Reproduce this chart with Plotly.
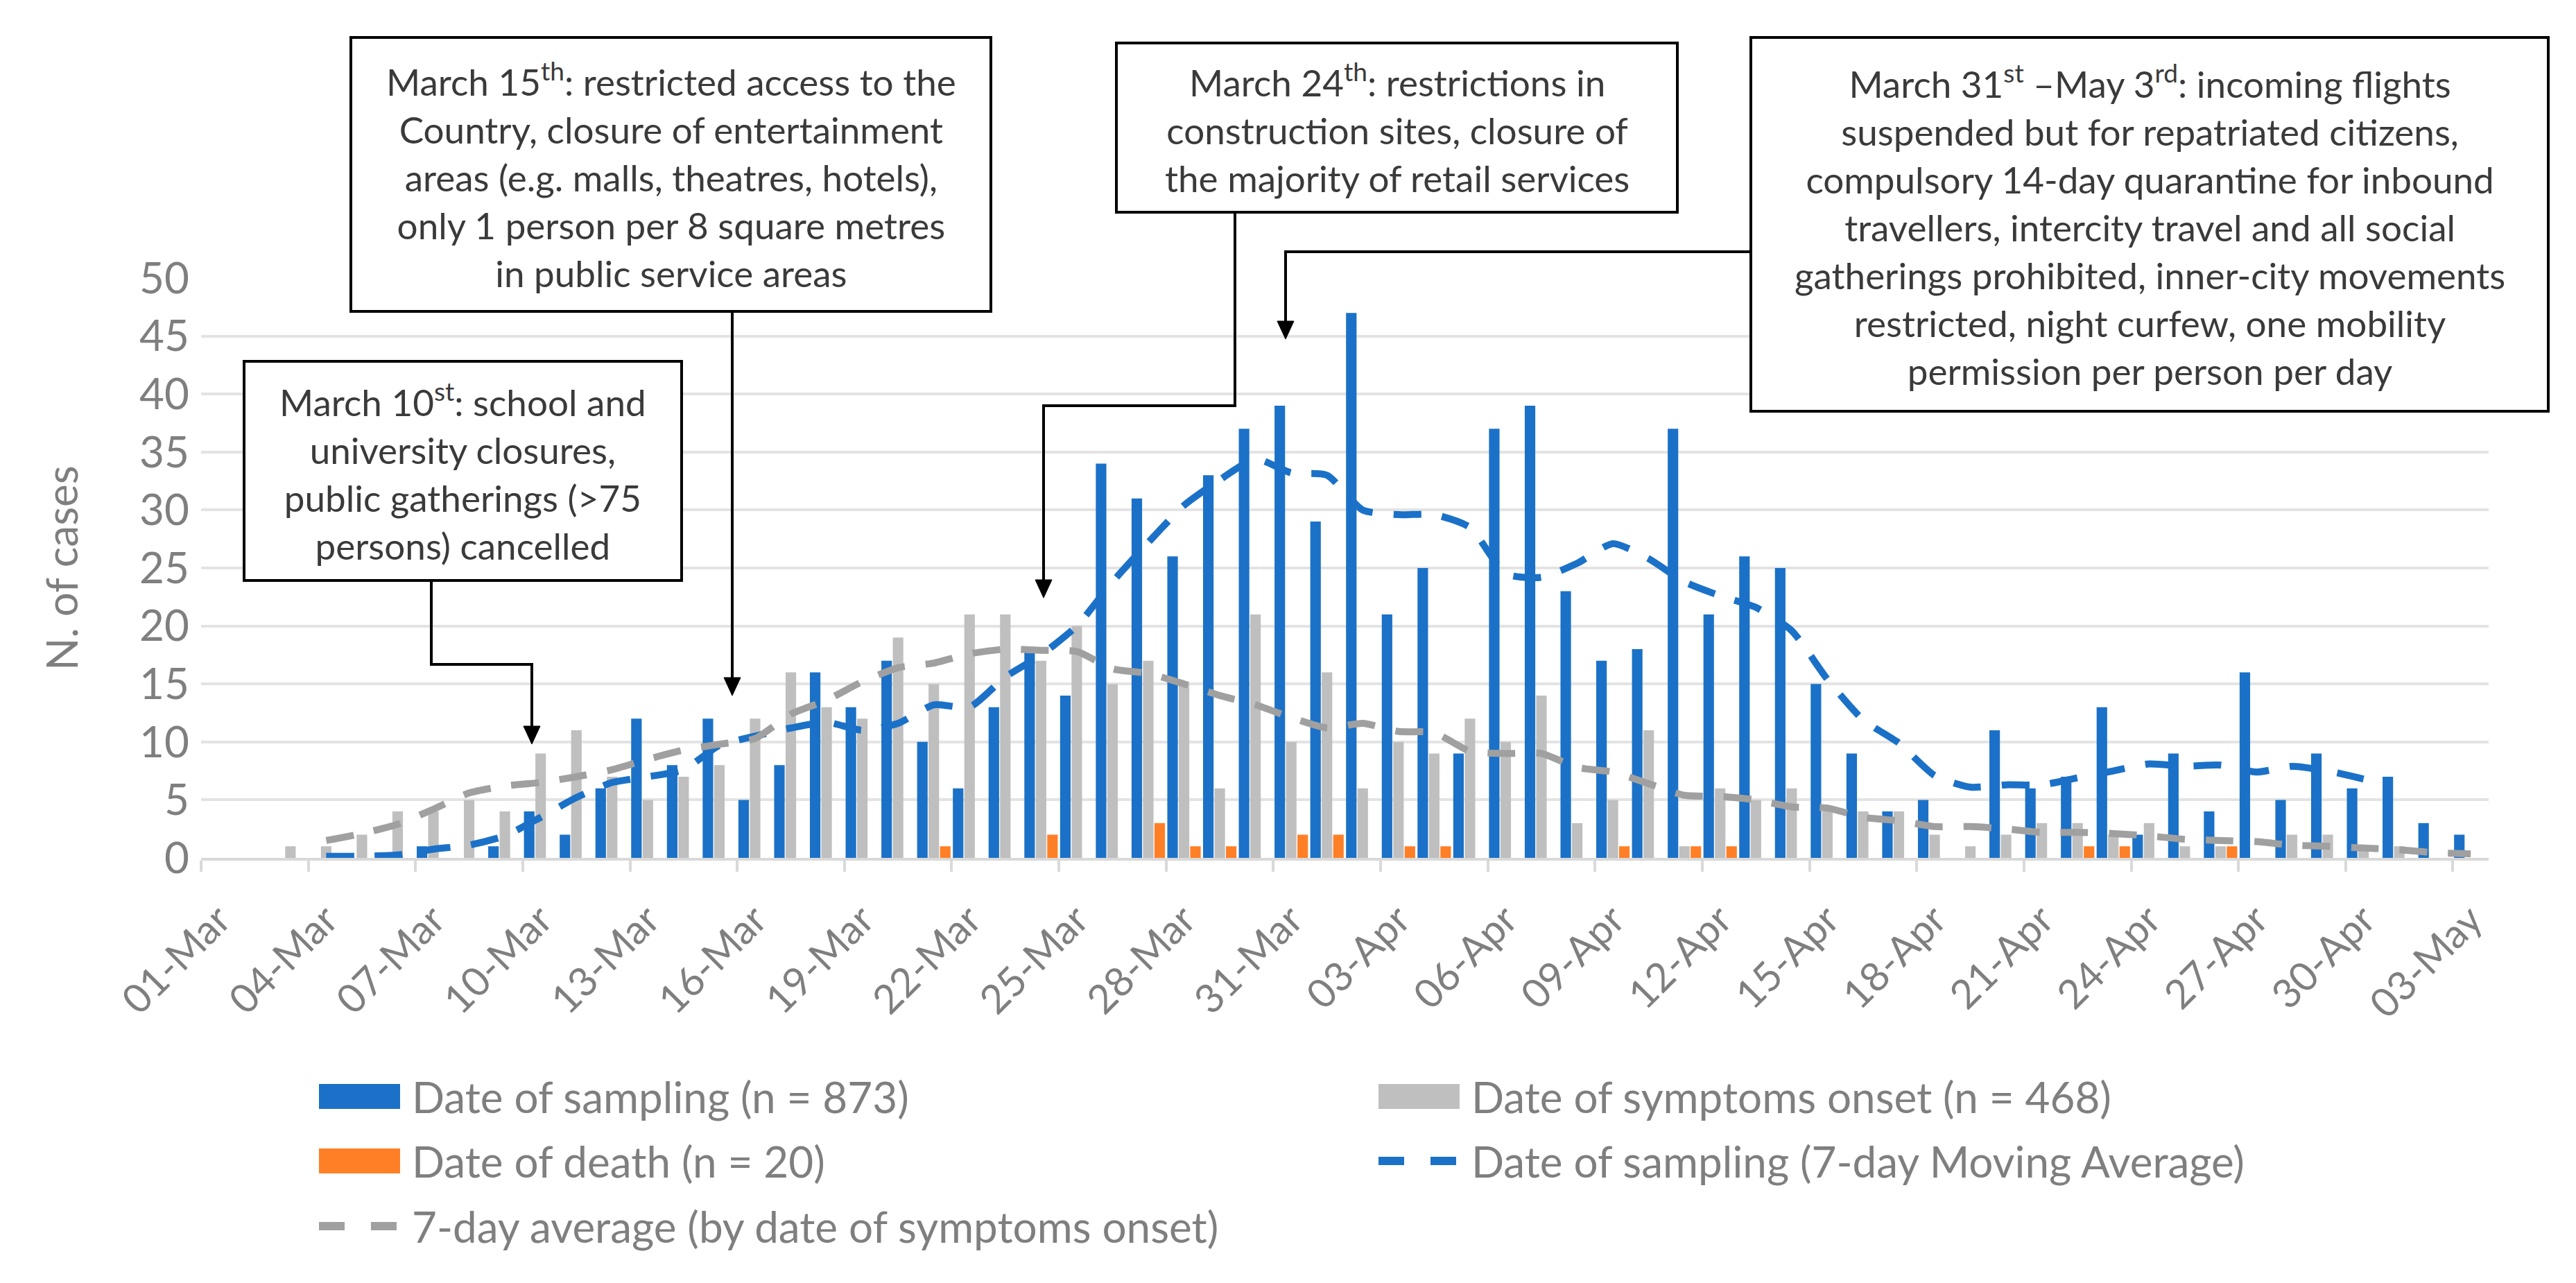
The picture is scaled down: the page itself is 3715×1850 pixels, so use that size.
import plotly.graph_objects as go
import pandas as pd

# ---------------- data ----------------
dates = list(pd.date_range("2020-03-01", "2020-05-03").strftime("%d-%b"))

sampling = [0, 0, 0, 0, 0, 0, 1, 0, 1, 4,
            2, 6, 12, 8, 12, 5, 8, 16, 13, 17,
            10, 6, 13, 18, 14, 34, 31, 26, 33, 37,
            39, 29, 47, 21, 25, 9, 37, 39, 23, 17,
            18, 37, 21, 26, 25, 15, 9, 4, 5, 0,
            11, 6, 7, 13, 2, 9, 4, 16, 5, 9,
            6, 7, 3, 2]

symptoms = [0, 0, 1, 1, 2, 4, 4, 5, 4, 9,
            11, 7, 5, 7, 8, 12, 16, 13, 12, 19,
            15, 21, 21, 17, 20, 15, 17, 15, 6, 21,
            10, 16, 6, 10, 9, 12, 10, 14, 3, 5,
            11, 1, 6, 5, 6, 4, 4, 4, 2, 1,
            2, 3, 3, 2, 3, 1, 1, 0, 2, 2,
            1, 1, 0, 0]

deaths = [0, 0, 0, 0, 0, 0, 0, 0, 0, 0,
          0, 0, 0, 0, 0, 0, 0, 0, 0, 0,
          1, 0, 0, 2, 0, 0, 3, 1, 1, 0,
          2, 2, 0, 1, 1, 0, 0, 0, 0, 1,
          0, 1, 1, 0, 0, 0, 0, 0, 0, 0,
          0, 0, 1, 1, 0, 0, 1, 0, 0, 0,
          0, 0, 0, 0]

sampling_ma = [None, None, None, 0.14, 0.14, 0.25, 0.75, 1.1, 1.9, 3.5,
               5.2, 6.5, 7.0, 7.6, 9.7, 10.5, 11.2, 11.7, 11.0, 11.6,
               13.2, 13.0, 15.6, 17.5, 20.0, 23.8, 27.2, 30.4, 32.6, 34.4,
               33.2, 33.0, 30.0, 29.6, 29.6, 28.5, 24.5, 24.2, 25.4, 27.1,
               25.8, 23.8, 22.6, 21.6, 19.6, 15.4, 11.9, 9.9, 7.1, 6.1,
               6.3, 6.3, 6.9, 7.5, 8.1, 7.9, 8.0, 7.4, 7.9, 7.5,
               6.8, None, None, None]

symptoms_ma = [None, None, None, 1.5, 2.1, 2.9, 4.2, 5.6, 6.2, 6.5,
               7.0, 7.6, 8.5, 9.3, 9.8, 10.3, 12.4, 13.6, 15.2, 16.4,
               16.8, 17.6, 18.0, 17.9, 17.8, 16.3, 15.9, 15.0, 14.0, 13.2,
               12.1, 11.2, 11.6, 10.9, 10.8, 9.2, 9.0, 9.0, 7.8, 7.4,
               6.4, 5.4, 5.3, 5.0, 4.4, 4.3, 3.5, 3.2, 2.7, 2.7,
               2.5, 2.2, 2.2, 2.1, 1.9, 1.6, 1.5, 1.4, 1.1, 1.0,
               0.85, 0.7, 0.45, 0.35]

series_names = ["Date of sampling (n = 873)",
                "Date of symptoms onset (n = 468)",
                "Date of death (n = 20)",
                "Date of sampling (7-day Moving Average)",
                "7-day average (by date of symptoms onset)"]

notes = [
    "March 10<sup>st</sup>: school and<br>university closures,<br>public gatherings (>75<br>persons) cancelled",
    "March 15<sup>th</sup>: restricted access to the<br>Country, closure of entertainment<br>areas (e.g. malls, theatres, hotels),<br>only 1 person per 8 square metres<br>in public service areas",
    "March 24<sup>th</sup>: restrictions in<br>construction sites, closure of<br>the majority of retail services",
    "March 31<sup>st</sup> \u2013May 3<sup>rd</sup>: incoming flights<br>suspended but for repatriated citizens,<br>compulsory 14-day quarantine for inbound<br>travellers, intercity travel and all social<br>gatherings prohibited, inner-city movements<br>restricted, night curfew, one mobility<br>permission per person per day",
]

# ---------------- style / layout ----------------
BLUE = "#1B71C7"
GRAY_BAR = "#BFBFBF"
ORANGE = "#FF7F27"
GRAY_LINE = "#A0A0A0"
TXT = "#7F7F7F"
BOX_TXT = "#3A3A3A"
FONT = "Lato, Carlito, 'Liberation Sans Narrow', sans-serif"

W, H = 3715, 1850
L, R, T, B = 282, 134, 393, 621
PW, PH = W - L - R, H - T - B


def px(X):
    return (X - L) / PW


def py(Y):
    return (H - B - Y) / PH


day_idx = list(range(len(dates)))

fig = go.Figure()
fig.add_trace(go.Bar(x=day_idx, y=sampling, name=series_names[0],
                     marker=dict(color=BLUE, line=dict(width=0))))
fig.add_trace(go.Bar(x=day_idx, y=symptoms, name=series_names[1],
                     marker=dict(color=GRAY_BAR, line=dict(width=0))))
fig.add_trace(go.Bar(x=day_idx, y=deaths, name=series_names[2],
                     marker=dict(color=ORANGE, line=dict(width=0))))
fig.add_trace(go.Scatter(x=day_idx, y=sampling_ma, name=series_names[3], mode="lines",
                         line=dict(color=BLUE, width=10, dash="40px,30px",
                                   shape="spline", smoothing=0.6)))
fig.add_trace(go.Scatter(x=day_idx, y=symptoms_ma, name=series_names[4], mode="lines",
                         line=dict(color=GRAY_LINE, width=10, dash="40px,30px",
                                   shape="spline", smoothing=0.6)))

shapes = []
annotations = []

# annotation boxes (pixel geometry of the reference)
boxes = [(344, 513, 975, 829), (498, 46, 1421, 441),
         (1602, 54, 2411, 298), (2517, 46, 3667, 585)]
for (x0, y0, x1, y1), txt in zip(boxes, notes):
    shapes.append(dict(type="rect", xref="paper", yref="paper",
                       x0=px(x0), x1=px(x1), y0=py(y1), y1=py(y0),
                       line=dict(color="black", width=4), fillcolor="white", layer="above"))
    annotations.append(dict(xref="paper", yref="paper", x=px((x0 + x1) / 2),
                            y=py((y0 + y1) / 2), xanchor="center", yanchor="middle",
                            text=txt, showarrow=False, align="center",
                            font=dict(family=FONT, size=53, color=BOX_TXT)))

# connector arrows
arrows = [
    [(614, 829), (614, 950), (759, 950), (759, 1041)],
    [(1048, 441), (1048, 971)],
    [(1773, 298), (1773, 577), (1497, 577), (1497, 830)],
    [(2517, 355), (1846, 355), (1846, 457)],
]
for pts in arrows:
    path = "M " + " L ".join(f"{px(x)},{py(y)}" for x, y in pts)
    shapes.append(dict(type="path", xref="paper", yref="paper", path=path,
                       line=dict(color="black", width=4), layer="above"))
    tx, ty = pts[-1]
    tip = ty + 24
    head = (f"M {px(tx - 12)},{py(ty - 2)} L {px(tx + 12)},{py(ty - 2)} "
            f"L {px(tx)},{py(tip)} Z")
    shapes.append(dict(type="path", xref="paper", yref="paper", path=head,
                       line=dict(color="black", width=1), fillcolor="black", layer="above"))

# custom legend (wide swatches like the reference)
leg_rows = [1573, 1666, 1760]
leg_cols = [(452, 569, 584), (1980, 2097, 2112)]
leg_items = [
    (0, 0, "bar", BLUE), (0, 1, "bar", GRAY_BAR),
    (1, 0, "bar", ORANGE), (1, 1, "dash", BLUE),
    (2, 0, "dash", GRAY_LINE),
]
for (r, c, kind, col), name in zip(leg_items, series_names):
    yc = leg_rows[r]
    sx0, sx1, tx = leg_cols[c]
    if kind == "bar":
        shapes.append(dict(type="rect", xref="paper", yref="paper",
                           x0=px(sx0), x1=px(sx1), y0=py(yc + 18), y1=py(yc - 18),
                           line=dict(width=0), fillcolor=col))
    else:
        shapes.append(dict(type="line", xref="paper", yref="paper",
                           x0=px(sx0), x1=px(sx1 - 4), y0=py(yc), y1=py(yc),
                           line=dict(color=col, width=12, dash="37px,38px")))
    annotations.append(dict(xref="paper", yref="paper", x=px(tx), y=py(yc),
                            xanchor="left", yanchor="middle", text=name, showarrow=False,
                            font=dict(family=FONT, size=62, color=TXT)))

# y-axis title
annotations.append(dict(xref="paper", yref="paper", x=px(80), y=0.5, text="N. of cases",
                        textangle=-90, showarrow=False, xanchor="center", yanchor="middle",
                        font=dict(family=FONT, size=62, color=TXT)))

boundaries = [i - 0.5 for i in day_idx[::3]]

fig.update_layout(
    width=W, height=H,
    margin=dict(l=L, r=R, t=T, b=B, pad=0),
    paper_bgcolor="white", plot_bgcolor="white",
    barmode="group", bargap=0.04, bargroupgap=0.08,
    showlegend=False,
    font=dict(family=FONT, color=TXT, size=60),
    shapes=shapes, annotations=annotations,
    xaxis=dict(range=[-0.5, len(dates) - 0.5], tickmode="array",
               tickvals=day_idx[::3], ticktext=dates[::3], tickangle=-45,
               ticks="", showgrid=False, zeroline=False,
               showline=True, linecolor="#D9D9D9", linewidth=4,
               tickfont=dict(family=FONT, size=58, color=TXT),
               ticklabelstandoff=28,
               minor=dict(tickmode="array", tickvals=boundaries, ticks="outside",
                          ticklen=16, tickwidth=4, tickcolor="#D9D9D9", showgrid=False)),
    yaxis=dict(range=[0, 50], tickmode="linear", tick0=0, dtick=5,
               showgrid=True, gridcolor="#E3E3E3", gridwidth=4,
               zeroline=False, showline=False, ticks="",
               tickfont=dict(family=FONT, size=62, color=TXT),
               ticklabelstandoff=16),
)

fig.write_html("out.html")
